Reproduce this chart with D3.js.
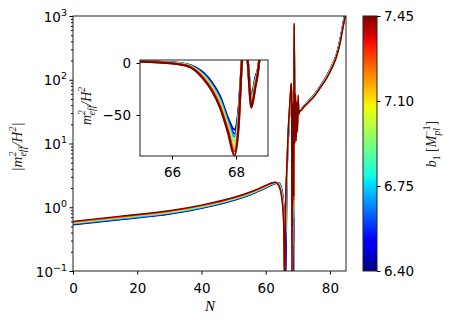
<!DOCTYPE html>
<html>
<head>
<meta charset="utf-8">
<script src="https://cdn.jsdelivr.net/npm/d3@7"></script>
<style>
  body { margin: 0; background: white; }
  svg text { font-family: "DejaVu Sans", sans-serif; fill: #000; }
  .math { font-family: "Liberation Serif", "DejaVu Serif", serif; font-style: italic; }
</style>
</head>
<body>
<script>
const nValues = [0, 15, 30, 40, 50, 55, 58, 60, 62, 63, 64, 64.5, 65, 65.3, 65.6, 65.9, 66.2, 66.6, 67, 67.25,
  67.5, 67.75, 67.95, 68.08, 68.18, 68.27, 68.37, 68.48, 68.6, 68.72, 68.8, 68.86, 68.95, 69.1, 69.3, 69.5,
  69.7, 69.9, 70.1, 70.3, 70.6, 71, 71.6, 73, 75, 77, 79, 81, 82, 83, 84, 85]

const b1Values = [6.40, 6.55, 6.70, 6.85, 7.00, 7.15, 7.30, 7.45]

const m640 = [.53, .64, .78, .96, 1.28, 1.55, 1.80, 2.00, 2.25, 2.35, 2.40, 2.30, 1.90, 1.60, 1.10, 0.60, 0.05, -2.5, -10, -19,
  -32, -53, -64, -45, -2, 25, 0.8, -33, -15, 0.1, 60, 450, 120, 20, 40, 18, 30, 22, 42, 30, 33, 34, 37, 45, 58, 80, 116, 185, 250, 395, 730, 1400]
const m655 = [.54, .65, .79, .98, 1.30, 1.57, 1.83, 2.03, 2.27, 2.37, 2.40, 2.26, 1.84, 1.52, 1.02, 0.51, -0.10, -2.8, -10.9, -20.1,
  -33.6, -55, -68, -47, -1.6, 27, 0.6, -34.4, -16.3, 0.3, 67, 495, 130, 19, 43, 17, 32, 21, 44, 30, 33, 34, 37, 44.5, 57.5, 79, 115, 183, 246, 388, 715, 1360]
const m670 = [.55, .66, .81, .99, 1.32, 1.60, 1.85, 2.06, 2.30, 2.40, 2.39, 2.21, 1.77, 1.44, 0.93, 0.42, -0.25, -3.1, -11.7, -21.3,
  -35.1, -57, -71, -50, -1.2, 29, 0.45, -35.9, -17.6, 0.5, 74, 540, 140, 18, 46, 16, 34, 20, 47, 30, 33, 34, 37, 44, 57, 78, 114, 180, 242, 380, 700, 1320]
const m685 = [.56, .68, .82, 1.01, 1.34, 1.62, 1.88, 2.09, 2.32, 2.42, 2.37, 2.16, 1.70, 1.36, 0.85, 0.33, -0.40, -3.4, -12.6, -22.4,
  -36.7, -59, -75, -52, -0.9, 31, 0.35, -37.3, -18.9, 0.7, 81, 585, 150, 16, 49, 15, 36, 19, 49, 30, 33, 34, 36.5, 44, 56.5, 77.5, 112, 178, 238, 373, 685, 1290]
const m700 = [.57, .69, .84, 1.03, 1.36, 1.65, 1.90, 2.11, 2.35, 2.44, 2.34, 2.10, 1.62, 1.27, 0.76, 0.24, -0.58, -3.6, -13.4, -23.6,
  -38.3, -61, -78, -55, -0.6, 34, 0.25, -38.7, -20.1, 0.9, 89, 630, 160, 15, 51, 14, 39, 18, 51, 30, 33, 34, 36.5, 43.5, 56, 77, 111, 176, 234, 366, 670, 1250]
const m715 = [.58, .70, .85, 1.05, 1.38, 1.67, 1.93, 2.14, 2.37, 2.46, 2.30, 2.04, 1.54, 1.18, 0.67, 0.15, -0.77, -3.9, -14.3, -24.7,
  -39.9, -63, -82, -57, -0.3, 36, 0.05, -40.1, -21.4, 1.1, 96, 675, 170, 13, 54, 13, 41, 17, 53, 29, 32, 33, 36, 43, 55, 76, 109, 173, 230, 359, 655, 1220]
const m730 = [.59, .71, .87, 1.06, 1.40, 1.70, 1.95, 2.17, 2.40, 2.47, 2.25, 1.97, 1.47, 1.09, 0.58, 0.06, -0.98, -4.2, -15.1, -25.9,
  -41.4, -65, -85, -60, -0.1, 38, 0.35, -41.6, -22.7, 1.3, 103, 715, 185, 12, 57, 12, 43, 16, 56, 29, 32, 33, 36, 43, 54.5, 75.5, 107, 170, 228, 352, 645, 1180]
const m745 = [.60, .725, .88, 1.08, 1.42, 1.72, 1.98, 2.20, 2.42, 2.47, 2.20, 1.90, 1.40, 1.00, 0.50, -0.05, -1.20, -4.5, -16, -27,
  -43, -67, -89, -62, -0.05, 40, 0.5, -43, -24, 1.5, 110, 760, 200, 10, 60, 11, 45, 15, 58, 29, 32, 33, 36, 42.5, 54, 75, 106, 168, 225, 345, 630, 1150]

const curves = [m640, m655, m670, m685, m700, m715, m730, m745]

const xTicks = [0, 20, 40, 60, 80]
const yTicks = [0.1, 1, 10, 100, 1000]
const yTickExp = ['\u22121', '0', '1', '2', '3']
const insetXTicks = [66, 68]
const insetYTicks = [0, -50]
const colorTicks = [6.40, 6.75, 7.10, 7.45]

const width = 450
const height = 325

// matplotlib jet
const jetR = d3.scaleLinear().domain([0, 0.35, 0.66, 0.89, 1]).range([0, 0, 1, 1, 0.5]).clamp(true)
const jetG = d3.scaleLinear().domain([0, 0.125, 0.375, 0.64, 0.91, 1]).range([0, 0, 1, 1, 0, 0]).clamp(true)
const jetB = d3.scaleLinear().domain([0, 0.11, 0.34, 0.65, 1]).range([0.5, 1, 1, 0, 0]).clamp(true)
const jet = t => d3.rgb(jetR(t) * 255, jetG(t) * 255, jetB(t) * 255).formatHex()

const cNorm = d3.scaleLinear().domain([6.40, 7.45]).range([0, 1])

const svg = d3.select('body')
  .append('svg')
  .attr('width', width)
  .attr('height', height)

const defs = svg.append('defs')

const x = d3.scaleLinear().domain([0, 85]).range([73, 346])
const y = d3.scaleLog().domain([0.1, 1000]).range([271, 16])

defs.append('clipPath').attr('id', 'mainClip')
  .append('rect')
  .attr('x', x.range()[0]).attr('y', y.range()[1])
  .attr('width', x.range()[1] - x.range()[0])
  .attr('height', y.range()[0] - y.range()[1])

const mainLine = d3.line()
  .x(d => x(d[0]))
  .y(d => y(Math.abs(d[1])))
  .curve(d3.curveMonotoneX)

svg.append('g')
  .attr('clip-path', 'url(#mainClip)')
  .selectAll('path')
  .data(curves)
  .enter()
  .append('path')
  .attr('d', c => mainLine(nValues.map((n, i) => [n, c[i]])))
  .attr('fill', 'none')
  .attr('stroke', (c, i) => jet(cNorm(b1Values[i])))
  .attr('stroke-width', 1.4)
  .attr('stroke-linejoin', 'round')

// x axis
const xAxis = svg.append('g')
  .attr('transform', `translate(0,${y.range()[0]})`)
  .call(d3.axisBottom(x).tickValues(xTicks).tickSize(3.5).tickFormat(d3.format('d')))
xAxis.select('.domain').remove()
xAxis.selectAll('text').attr('y', 22).attr('dy', 0).style('font-size', '13.5px').style('font-family', '"DejaVu Sans"')

// y axis, log
const minorTicks = []
yTicks.slice(0, -1).forEach(d => { for (let k = 2; k < 10; k++) minorTicks.push(d * k) })

const yMinor = svg.append('g')
  .attr('transform', `translate(${x.range()[0]},0)`)
  .call(d3.axisLeft(y).tickValues(minorTicks).tickSize(2).tickFormat(''))
yMinor.select('.domain').remove()

const yAxis = svg.append('g')
  .attr('transform', `translate(${x.range()[0]},0)`)
  .call(d3.axisLeft(y).tickValues(yTicks).tickSize(3.5).tickFormat(''))
yAxis.select('.domain').remove()

const yLabels = svg.append('g')
  .selectAll('text')
  .data(yTicks)
  .enter()
  .append('text')
  .attr('x', 67)
  .attr('y', d => y(d) + 5.5)
  .attr('text-anchor', 'end')
  .style('font-size', '13.5px')
yLabels.append('tspan').text('10')
yLabels.append('tspan').attr('dy', -6).style('font-size', '9.5px').text((d, i) => yTickExp[i])

// main frame
svg.append('rect')
  .attr('x', x.range()[0]).attr('y', y.range()[1])
  .attr('width', x.range()[1] - x.range()[0])
  .attr('height', y.range()[0] - y.range()[1])
  .attr('fill', 'none')
  .attr('stroke', '#222')
  .attr('stroke-width', 1)

// axis labels
svg.append('text')
  .attr('class', 'math')
  .attr('x', 210)
  .attr('y', 311)
  .attr('text-anchor', 'middle')
  .style('font-size', '15px')
  .text('N')

const yTitle = svg.append('text')
  .attr('class', 'math')
  .attr('transform', 'translate(22,147) rotate(-90)')
  .attr('text-anchor', 'middle')
  .style('font-size', '15px')
  .style('fill', '#222')
yTitle.append('tspan').text('|m')
yTitle.append('tspan').attr('dy', -6).style('font-size', '10px').text('2')
yTitle.append('tspan').attr('dx', -5).attr('dy', 10).style('font-size', '10px').text('eff')
yTitle.append('tspan').attr('dy', -4).text('/H')
yTitle.append('tspan').attr('dy', -6).style('font-size', '10px').text('2')
yTitle.append('tspan').attr('dy', 6).text('|')

// inset
const xi = d3.scaleLinear().domain([65, 69]).range([140, 268])
const yi = d3.scaleLinear().domain([-89.5, 2.9]).range([156, 60])

svg.append('rect')
  .attr('x', xi.range()[0]).attr('y', yi.range()[1])
  .attr('width', xi.range()[1] - xi.range()[0])
  .attr('height', yi.range()[0] - yi.range()[1])
  .attr('fill', 'white')

defs.append('clipPath').attr('id', 'insetClip')
  .append('rect')
  .attr('x', xi.range()[0]).attr('y', yi.range()[1])
  .attr('width', xi.range()[1] - xi.range()[0])
  .attr('height', yi.range()[0] - yi.range()[1])

const insetLine = d3.line()
  .x(d => xi(d[0]))
  .y(d => yi(d[1]))
  .curve(d3.curveMonotoneX)

svg.append('g')
  .attr('clip-path', 'url(#insetClip)')
  .selectAll('path')
  .data(curves)
  .enter()
  .append('path')
  .attr('d', c => insetLine(nValues.map((n, i) => [n, c[i]]).filter(d => d[0] >= 64.4 && d[0] <= 69.2)))
  .attr('fill', 'none')
  .attr('stroke', (c, i) => jet(cNorm(b1Values[i])))
  .attr('stroke-width', 2.2)
  .attr('stroke-linejoin', 'round')

svg.append('rect')
  .attr('x', xi.range()[0]).attr('y', yi.range()[1])
  .attr('width', xi.range()[1] - xi.range()[0])
  .attr('height', yi.range()[0] - yi.range()[1])
  .attr('fill', 'none')
  .attr('stroke', '#222')
  .attr('stroke-width', 1)

const xiAxis = svg.append('g')
  .attr('transform', `translate(0,${yi.range()[0]})`)
  .call(d3.axisBottom(xi).tickValues(insetXTicks).tickSize(3.5).tickFormat(d3.format('d')))
xiAxis.select('.domain').remove()
xiAxis.selectAll('text').attr('y', 21).attr('dy', 0).style('font-size', '13.5px').style('font-family', '"DejaVu Sans"')

const yiAxis = svg.append('g')
  .attr('transform', `translate(${xi.range()[0]},0)`)
  .call(d3.axisLeft(yi).tickValues(insetYTicks).tickSize(3.5).tickFormat(d => d < 0 ? '\u2212' + Math.abs(d) : d))
yiAxis.select('.domain').remove()
yiAxis.selectAll('text').attr('x', -9).attr('dy', '0.36em').style('font-size', '13.5px').style('font-family', '"DejaVu Sans"')

const yiTitle = svg.append('text')
  .attr('class', 'math')
  .attr('transform', 'translate(91,106) rotate(-90)')
  .attr('text-anchor', 'middle')
  .style('font-size', '14px')
  .style('fill', '#222')
yiTitle.append('tspan').text('m')
yiTitle.append('tspan').attr('dy', -6).style('font-size', '9.5px').text('2')
yiTitle.append('tspan').attr('dx', -5).attr('dy', 10).style('font-size', '9.5px').text('eff')
yiTitle.append('tspan').attr('dy', -4).text('/H')
yiTitle.append('tspan').attr('dy', -6).style('font-size', '9.5px').text('2')

// colorbar
const cb = d3.scaleLinear().domain([6.40, 7.45]).range([271, 16])
const grad = defs.append('linearGradient')
  .attr('id', 'jetGrad')
  .attr('x1', 0).attr('y1', 1).attr('x2', 0).attr('y2', 0)
grad.selectAll('stop')
  .data(d3.range(0, 1.0001, 0.025))
  .enter()
  .append('stop')
  .attr('offset', d => d)
  .attr('stop-color', d => jet(d))

svg.append('rect')
  .attr('x', 363).attr('y', cb.range()[1])
  .attr('width', 14)
  .attr('height', cb.range()[0] - cb.range()[1])
  .attr('fill', 'url(#jetGrad)')
  .attr('stroke', '#222')
  .attr('stroke-width', 1)

const cAxis = svg.append('g')
  .attr('transform', 'translate(377,0)')
  .call(d3.axisRight(cb).tickValues(colorTicks).tickSize(3.5).tickFormat(d3.format('.2f')))
cAxis.select('.domain').remove()
cAxis.selectAll('text').attr('x', 7).style('font-size', '13.5px').style('font-family', '"DejaVu Sans"')

const cTitle = svg.append('text')
  .attr('class', 'math')
  .attr('transform', 'translate(436,144) rotate(-90)')
  .attr('text-anchor', 'middle')
  .style('font-size', '14px')
  .style('fill', '#222')
cTitle.append('tspan').text('b')
cTitle.append('tspan').attr('dy', 4).style('font-size', '9.5px').style('font-style', 'normal').text('1')
cTitle.append('tspan').attr('dy', -4).style('font-style', 'normal').text(' [')
cTitle.append('tspan').text('M')
cTitle.append('tspan').attr('dy', 4).style('font-size', '9.5px').text('pl')
cTitle.append('tspan').attr('dx', -7.5).attr('dy', -10).style('font-size', '9.5px').style('font-style', 'normal').text('\u22121')
cTitle.append('tspan').attr('dy', 6).style('font-style', 'normal').text(']')
</script>
</body>
</html>
